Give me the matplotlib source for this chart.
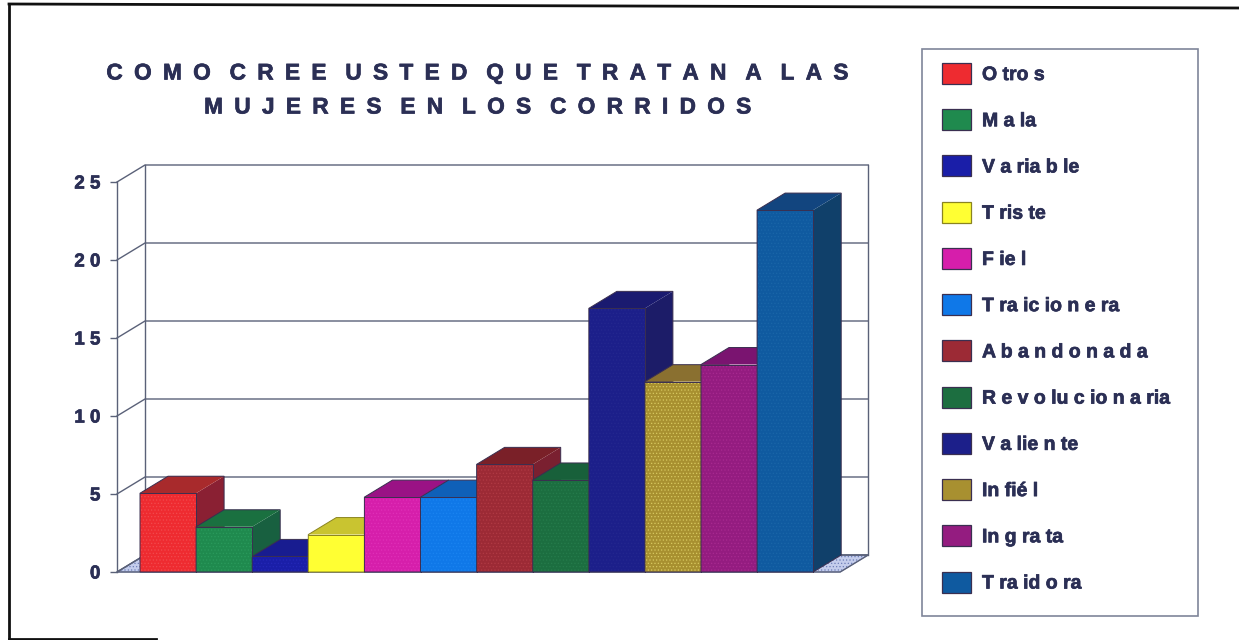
# -*- coding: utf-8 -*-
import matplotlib
matplotlib.use('Agg')
import matplotlib.pyplot as plt
import matplotlib.patheffects as pe
from matplotlib.lines import Line2D
from matplotlib.patches import Patch, Polygon, Rectangle

plt.rcParams['font.family'] = ['Liberation Sans', 'DejaVu Sans']
plt.rcParams['hatch.linewidth'] = 0.5

#Data
categories = ['Otros', 'Mala', 'Variable', 'Triste', 'Fiel', 'Traicionera',
              'Abandonada', 'Revolucionaria', 'Valiente', 'Infiél', 'Ingrata', 'Traidora']
legend_labels = ['O tro s', 'M a la', 'V a ria b le', 'T ris te', 'F ie l', 'T ra ic io n e ra',
                 'A b a n d o n a d a', 'R e v o lu c io n a ria', 'V a lie n te', 'In fié l',
                 'In g ra ta', 'T ra id o ra']
values = [5.05, 2.9, 1.0, 2.4, 4.8, 4.8, 6.9, 5.9, 16.9, 12.2, 13.3, 23.2]
yticks = [0, 5, 10, 15, 20, 25]
ytick_labels = ['0', '5', '1 0', '1 5', '2 0', '2 5']
title_lines = ['COMO CREE USTED QUE TRATAN A LAS', 'MUJERES EN LOS CORRIDOS']

#Colours: front, top, side, hatch
front = ['#ee2b30', '#1f8a4e', '#1a1ea8', '#ffff33', '#d61eab', '#0f78e8',
         '#9c2a35', '#1c6e40', '#1c1f8a', '#a89030', '#941c80', '#0f5aa0']
top = ['#a82a2c', '#1a7040', '#181c90', '#c9c430', '#9a1285', '#0f60b8',
       '#7a2028', '#18603a', '#1a1a70', '#8a7030', '#7a1470', '#12457f']
side = ['#8a2033', '#186040', '#181c80', '#a8a428', '#80107a', '#0f4f98',
        '#7a2030', '#165438', '#1c1c68', '#7a6428', '#6a1262', '#10406a']
hatch_col = ['#f24a4e', '#2a9a5c', '#2428b8', '#ffff33', '#e030b8', '#1a84f0',
             '#b03a44', '#267c4c', '#24288f', '#d8c860', '#a82a90', '#1a66a8']

W, H = 1239, 640
TEXT = '#2b2f55'
LINE = '#5a6178'
PX_X = 56.1  #pixels for one bar
PX_Y = 15.6  #pixels for one unit
DX = 28 / PX_X  #depth of the chart
DY = 17 / PX_Y
X0, Y0 = 140, 572  #pixel of x=0, y=0
heavy = [pe.withStroke(linewidth=0.5, foreground=TEXT)]  #the scan thickens the letters

fig = plt.figure(figsize=(W / 100, H / 100), dpi=100, facecolor='white')

#Axes placed so the scales land on the picture
L, R, B, T = 100, 880, 582, 155
ax = fig.add_axes([L / W, 1 - B / H, (R - L) / W, (B - T) / H])
ax.set_xlim((L - X0) / PX_X, (R - X0) / PX_X)
ax.set_ylim((Y0 - B) / PX_Y, (Y0 - T) / PX_Y)
ax.patch.set_alpha(0)

n = len(values)
x_left = -23 / PX_X  #front left corner of the floor
x_right = n + 27 / PX_X  #front right corner of the floor

#Floor
ax.add_patch(Polygon([(x_left, 0), (x_left + DX, DY), (x_right + DX, DY), (x_right, 0)],
                     facecolor='#c4cdec', edgecolor='#6f7fb8', hatch='.....', lw=0.6, zorder=1))
ax.add_patch(Polygon([(x_left, 0), (x_left + DX, DY), (x_right + DX, DY), (x_right, 0)],
                     fill=False, edgecolor=LINE, lw=1, zorder=1.1))

#Back wall and side wall grid
for t in yticks:
    ax.plot([x_left, x_left + DX, x_right + DX], [t, t + DY, t + DY], color=LINE, lw=1.0, zorder=1.2)
ax.plot([x_left + DX, x_left + DX], [DY, 25 + DY], color=LINE, lw=1.0, zorder=1.2)
ax.plot([x_right + DX, x_right + DX], [DY, 25 + DY], color=LINE, lw=1.0, zorder=1.2)

#Bars, left to right so each covers the side of the one before
for i, v in enumerate(values):
    z = 2 + i * 0.1
    ec = '#8a8420' if categories[i] == 'Triste' else '#3a2f50'
    ax.add_patch(Polygon([(i + 1, 0), (i + 1 + DX, DY), (i + 1 + DX, v + DY), (i + 1, v)],
                         facecolor=side[i], lw=0, zorder=z))
    ax.add_patch(Polygon([(i, v), (i + DX, v + DY), (i + 1 + DX, v + DY), (i + 1, v)],
                         facecolor=top[i], lw=0, zorder=z))
    ax.bar(i, v, width=1, align='edge', color=front[i], edgecolor=hatch_col[i],
           hatch='.....', lw=0, zorder=z)
    ax.add_patch(Polygon([(i, 0), (i, v), (i + DX, v + DY), (i + 1 + DX, v + DY), (i + 1 + DX, DY),
                          (i + 1, 0)], fill=False, edgecolor=ec, lw=0.7, zorder=z))
    ax.plot([i, i + 1], [v, v], color=ec, lw=0.7, zorder=z)
    ax.plot([i + 1, i + 1], [0, v], color=ec, lw=0.7, zorder=z)

#Value axis on the front left corner
for s in ['top', 'right', 'bottom']:
    ax.spines[s].set_visible(False)
ax.spines['left'].set_position(('data', x_left))
ax.spines['left'].set_bounds(0, 25)
ax.spines['left'].set_color(LINE)
ax.spines['left'].set_linewidth(1.0)
ax.set_xticks([])
ax.set_yticks(yticks)
ax.set_yticklabels(ytick_labels, fontsize=13.5, fontweight='bold', color=TEXT, path_effects=heavy)
ax.tick_params(axis='y', length=5, width=1.0, color=LINE, pad=7)

#Title, letters spread apart as in the scan
EN = '\u2002'
WORD = '\u2002\u2004'
for line, y in zip(title_lines, [73, 107]):
    s = WORD.join(EN.join(word) for word in line.split(' '))
    fig.text(478 / W, 1 - y / H, s, ha='center', va='center', fontsize=16.3,
             fontweight='bold', color=TEXT, path_effects=heavy)

#Legend box is drawn apart, the padding differs on each side
fig.add_artist(Rectangle((922 / W, 1 - 616 / H), 276 / W, 567 / H, transform=fig.transFigure,
                         facecolor='white', edgecolor='#7f8599', lw=1.2))
handles = []
for i in range(n):
    ec = '#8a8420' if categories[i] == 'Triste' else '#3a2f50'
    handles.append(Patch(facecolor=front[i], edgecolor=ec, lw=0.9, label=legend_labels[i]))
FS = 14
fpx = FS * 100 / 72
leg = fig.legend(handles=handles, loc='upper left', bbox_to_anchor=(942 / W, 1 - 63 / H),
                 bbox_transform=fig.transFigure, frameon=False,
                 borderpad=0, borderaxespad=0, handlelength=29 / fpx, handleheight=25 / fpx,
                 handletextpad=11 / fpx, labelspacing=25.2 / fpx,
                 prop={'weight': 'bold', 'size': FS})
for t in leg.get_texts():
    t.set_color(TEXT)
    t.set_path_effects(heavy)

#Black frame of the scanned page
frame = [((9, 5), (9, 639)), ((9, 639), (156, 639)), ((9, 4), (1239, 8))]
for (x1, y1), (x2, y2) in frame:
    fig.add_artist(Line2D([x1 / W, x2 / W], [1 - y1 / H, 1 - y2 / H], color='#111111', lw=2.0))

fig.savefig('out.png', dpi=100)
